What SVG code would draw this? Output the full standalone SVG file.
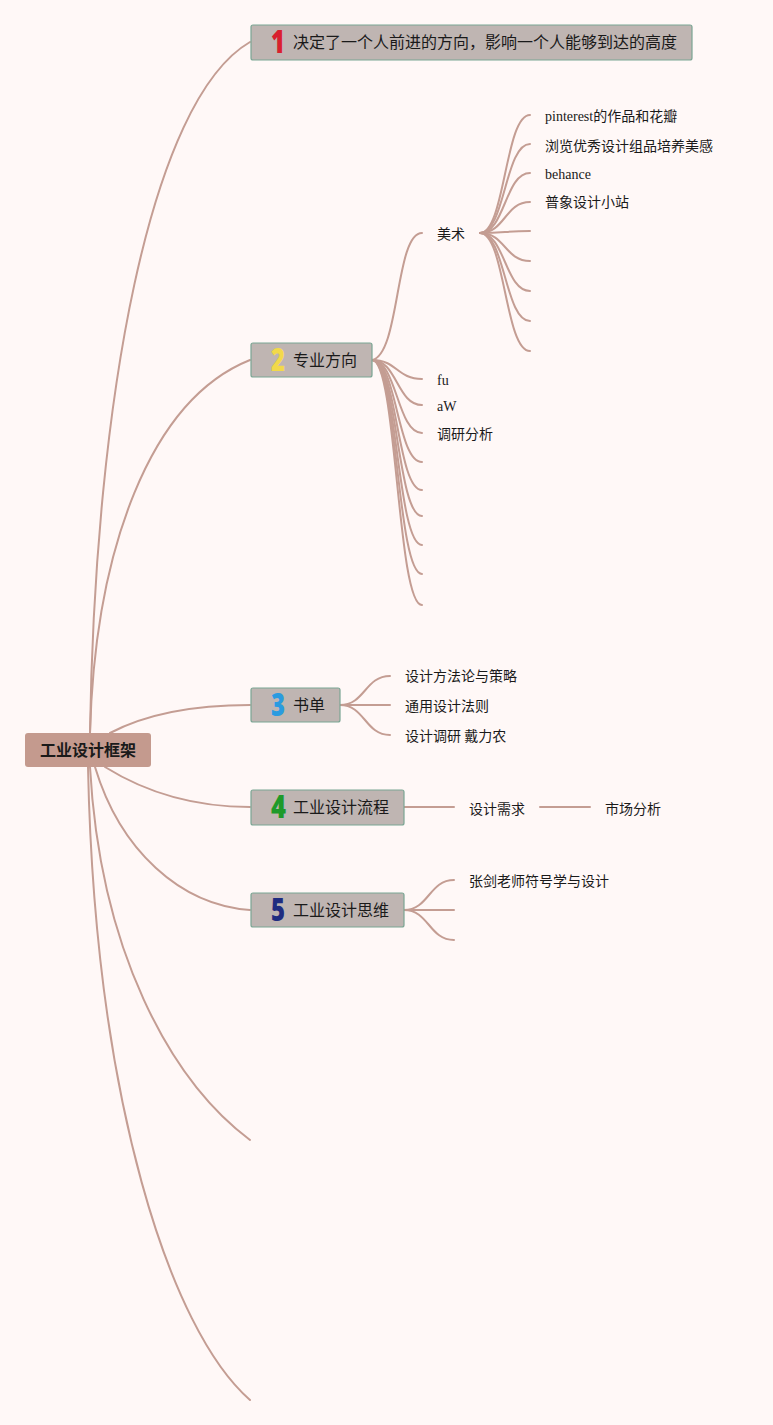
<svg xmlns="http://www.w3.org/2000/svg" width="773" height="1425" viewBox="0 0 773 1425">
<style>
.c{fill:none;stroke:#C49D93;stroke-width:2;stroke-linecap:round}
.n{fill:#BFB5B2;stroke:#7BA593;stroke-width:1.2}
.t{font-family:"Noto Sans CJK SC","Noto Sans",sans-serif;font-size:16px;fill:#1a1a1a}
.s{font-family:"Noto Sans CJK SC","Noto Sans",sans-serif;font-size:14px;fill:#1a1a1a}
.e{font-family:"Liberation Serif","Noto Sans CJK SC",serif;font-size:14px;fill:#1a1a1a}
.d{font-family:"Open Sans","Noto Sans",sans-serif;font-size:31px;font-weight:800}
</style>
<rect width="773" height="1425" fill="#FFF8F7"/>
<g id="connectors">
<path class="c" d="M90 733 C95 400 150 100 250 42"/>
<path class="c" d="M90 733 C95 550 150 400 250 360"/>
<path class="c" d="M110 733 C150 712 200 705 250 705"/>
<path class="c" d="M105 767 C150 795 200 807 250 807"/>
<path class="c" d="M95 767 C120 850 180 905 250 910"/>
<path class="c" d="M90 767 C100 950 170 1080 250 1140"/>
<path class="c" d="M88 767 C95 1100 170 1330 250 1400"/>
<path class="c" d="M372 360 C400 355 395 233 422 233"/>
<path class="c" d="M480 233 C505 233 505 115 530 115"/>
<path class="c" d="M480 233 C505 233 505 144 530 144"/>
<path class="c" d="M480 233 C505 233 505 173 530 173"/>
<path class="c" d="M480 233 C505 233 505 202 530 202"/>
<path class="c" d="M480 233 C505 233 505 231 530 231"/>
<path class="c" d="M480 233 C505 233 505 261 530 261"/>
<path class="c" d="M480 233 C505 233 505 291 530 291"/>
<path class="c" d="M480 233 C505 233 505 321 530 321"/>
<path class="c" d="M480 233 C505 233 505 351 530 351"/>
<path class="c" d="M372 360 C397 360 397 379 422 379"/>
<path class="c" d="M372 360 C397 360 397 405 422 405"/>
<path class="c" d="M372 360 C397 360 397 433 422 433"/>
<path class="c" d="M372 360 C397 360 397 462 422 462"/>
<path class="c" d="M372 360 C397 360 397 490 422 490"/>
<path class="c" d="M372 360 C397 360 397 516 422 516"/>
<path class="c" d="M372 360 C397 360 397 545 422 545"/>
<path class="c" d="M372 360 C397 360 397 574 422 574"/>
<path class="c" d="M372 360 C397 360 397 605 422 605"/>
<path class="c" d="M340 705 C365 705 365 676 390 676"/>
<path class="c" d="M340 705 L390 705"/>
<path class="c" d="M340 705 C365 705 365 735 390 735"/>
<path class="c" d="M404 807 L454 807"/>
<path class="c" d="M540 807 L590 807"/>
<path class="c" d="M404 910 C429 910 429 880 454 880"/>
<path class="c" d="M404 910 L454 910"/>
<path class="c" d="M404 910 C429 910 429 940 454 940"/>
</g>
<g id="root">
<rect x="25" y="733" width="126" height="34" rx="3" fill="#C49A8E"/>
<text x="88" y="756" text-anchor="middle" class="t" font-weight="bold">工业设计框架</text>
</g>
<g id="n1">
<rect class="n" x="251" y="25" width="441" height="35" rx="2"/>
<text class="d" x="271" y="53" textLength="14" lengthAdjust="spacingAndGlyphs" fill="#D9202E">1</text>
<text class="t" x="293" y="48">决定了一个人前进的方向，影响一个人能够到达的高度</text>
</g>
<g id="n2">
<rect class="n" x="251" y="343" width="121" height="34" rx="2"/>
<text class="d" x="271" y="371" textLength="14" lengthAdjust="spacingAndGlyphs" fill="#F2D94A">2</text>
<text class="t" x="293" y="366">专业方向</text>
</g>
<g id="n3">
<rect class="n" x="251" y="688" width="89" height="34" rx="2"/>
<text class="d" x="271" y="716" textLength="14" lengthAdjust="spacingAndGlyphs" fill="#2A9BE0">3</text>
<text class="t" x="293" y="711">书单</text>
</g>
<g id="n4">
<rect class="n" x="251" y="790" width="153" height="35" rx="2"/>
<text class="d" x="271" y="818" textLength="15" lengthAdjust="spacingAndGlyphs" fill="#1E9A2A">4</text>
<text class="t" x="293" y="813">工业设计流程</text>
</g>
<g id="n5">
<rect class="n" x="251" y="893" width="153" height="34" rx="2"/>
<text class="d" x="271" y="921" textLength="14" lengthAdjust="spacingAndGlyphs" fill="#1F2C80">5</text>
<text class="t" x="293" y="916">工业设计思维</text>
</g>
<g id="meishu"><text class="s" x="437" y="239">美术</text></g>
<g id="c1"><text class="e" x="545" y="121">pinterest<tspan class="s">的作品和花瓣</tspan></text></g>
<g id="c2"><text class="s" x="545" y="151">浏览优秀设计组品培养美感</text></g>
<g id="c3"><text class="e" x="545" y="179">behance</text></g>
<g id="c4"><text class="s" x="545" y="207">普象设计小站</text></g>
<g id="c5"><text class="e" x="437" y="385">fu</text></g>
<g id="c6"><text class="e" x="437" y="411">aW</text></g>
<g id="c7"><text class="s" x="437" y="439">调研分析</text></g>
<g id="b1"><text class="s" x="405" y="681">设计方法论与策略</text></g>
<g id="b2"><text class="s" x="405" y="711">通用设计法则</text></g>
<g id="b3"><text class="s" x="405" y="741">设计调研 戴力农</text></g>
<g id="f1"><text class="s" x="469" y="814">设计需求</text></g>
<g id="f2"><text class="s" x="605" y="814">市场分析</text></g>
<g id="t1"><text class="s" x="469" y="886">张剑老师符号学与设计</text></g>
</svg>
